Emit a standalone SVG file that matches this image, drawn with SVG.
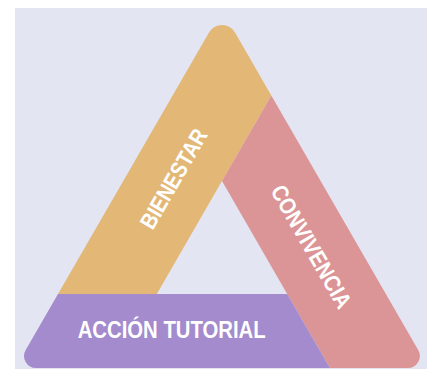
<svg xmlns="http://www.w3.org/2000/svg" width="427" height="369" viewBox="0 0 427 369">
<style>
.lbl{font-family:"Liberation Sans","DejaVu Sans",sans-serif;font-weight:bold;font-size:23px;fill:#ffffff;text-anchor:middle}
</style>
<rect x="0" y="0" width="427" height="369" fill="#ffffff"/>
<rect x="15" y="8" width="412" height="361" fill="#e4e5f3"/>
<g id="bienestar">
<path d="M209,32.5 A15,15 0 0 1 235,32.5 L271.3,95.5 L156.8,294 L58,294 Z" fill="#e3b775"/>
<text class="lbl" transform="translate(173.5,178.5) rotate(-60)" x="0" y="8.2" textLength="111" lengthAdjust="spacingAndGlyphs">BIENESTAR</text>
</g>
<g id="convivencia">
<path d="M271.3,95.5 L418.2,350 A12,12 0 0 1 407.8,368 L329.9,368 L222,181 Z" fill="#dc9596"/>
<text class="lbl" transform="translate(311.5,246.5) rotate(60)" x="0" y="8.2" textLength="138" lengthAdjust="spacingAndGlyphs">CONVIVENCIA</text>
</g>
<g id="accion-tutorial">
<path d="M58,294 L287.2,294 L329.9,368 L36.1,368 A12,12 0 0 1 25.7,350 Z" fill="#a38bce"/>
<text class="lbl" x="171.7" y="338.3" textLength="188" lengthAdjust="spacingAndGlyphs">ACCIÓN TUTORIAL</text>
</g>
<g id="connectors"></g>
</svg>
